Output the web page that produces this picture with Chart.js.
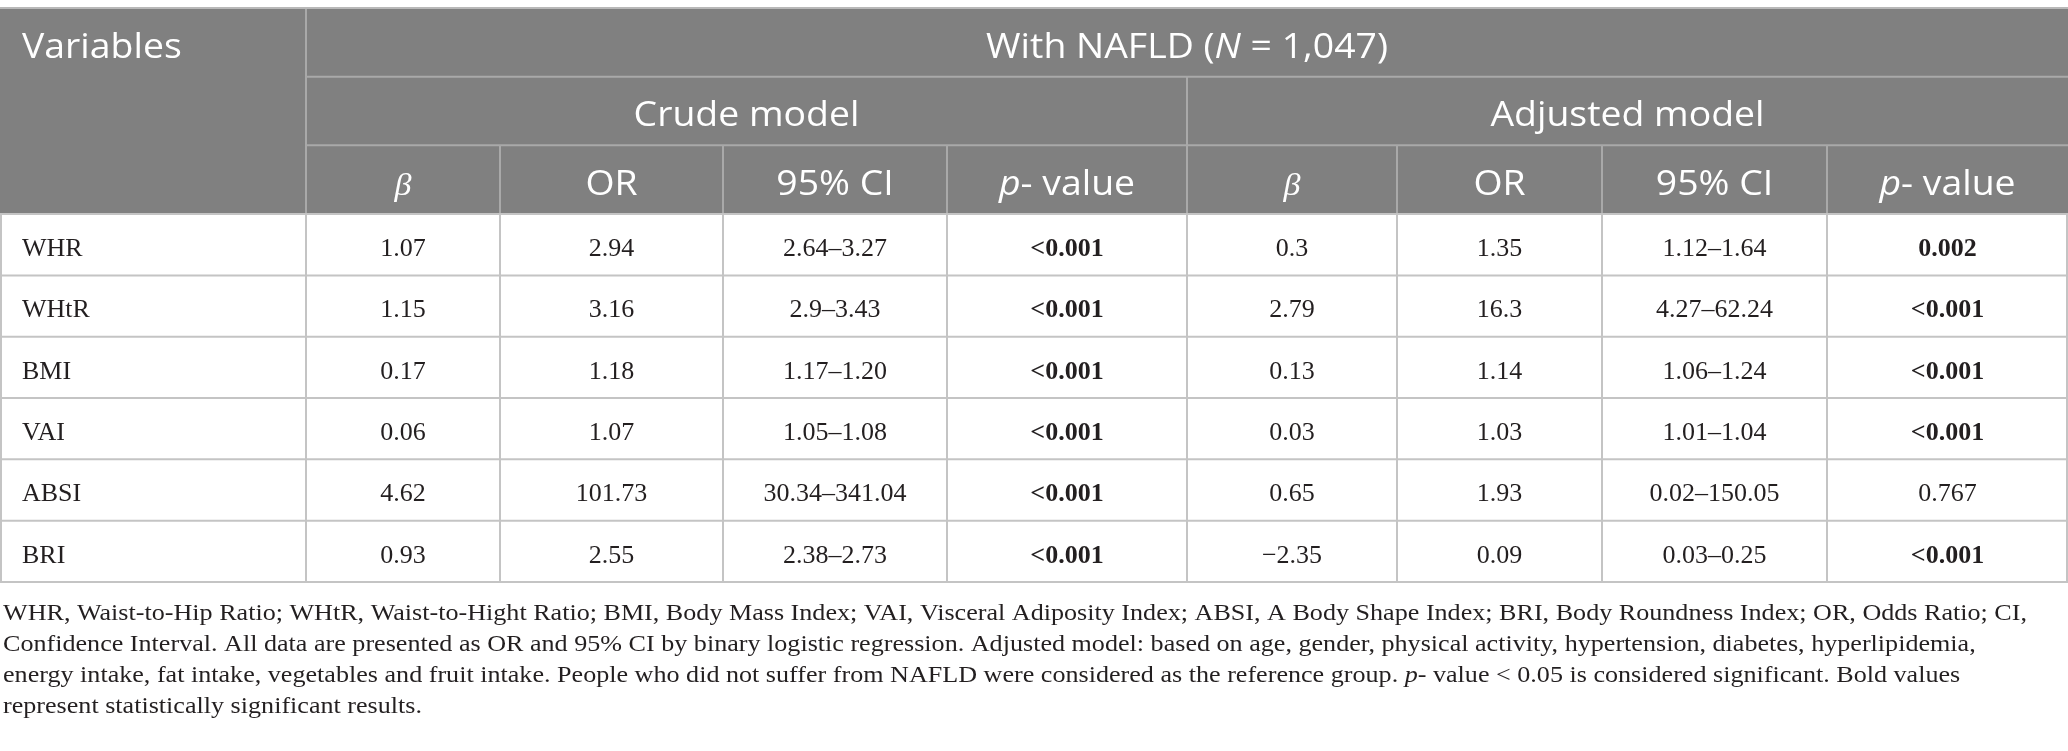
<!DOCTYPE html>
<html>
<head>
<meta charset="utf-8">
<script src="https://cdn.jsdelivr.net/npm/chart.js@4/dist/chart.umd.min.js"></script>
<style>
html,body{margin:0;padding:0;background:#ffffff;}
#wrap{width:2068px;height:751px;position:relative;}
</style>
</head>
<body>
<div id="wrap"><canvas id="c" width="2068" height="751"></canvas></div>
<script>
// ---------------- DATA ----------------
const groupTitle = 'With NAFLD (_N_ = 1,047)';
const modelLabels = ['Crude model', 'Adjusted model'];
const firstHeader = 'Variables';
const subHeaders = ['_β_', 'OR', '95% CI', '_p_- value'];
const variables = ['WHR', 'WHtR', 'BMI', 'VAI', 'ABSI', 'BRI'];

const crudeBeta = ['1.07', '1.15', '0.17', '0.06', '4.62', '0.93'];
const crudeOR   = ['2.94', '3.16', '1.18', '1.07', '101.73', '2.55'];
const crudeCI   = ['2.64–3.27', '2.9–3.43', '1.17–1.20', '1.05–1.08', '30.34–341.04', '2.38–2.73'];
const crudeP    = ['<0.001', '<0.001', '<0.001', '<0.001', '<0.001', '<0.001'];

const adjBeta = ['0.3', '2.79', '0.13', '0.03', '0.65', '−2.35'];
const adjOR   = ['1.35', '16.3', '1.14', '1.03', '1.93', '0.09'];
const adjCI   = ['1.12–1.64', '4.27–62.24', '1.06–1.24', '1.01–1.04', '0.02–150.05', '0.03–0.25'];
const adjP    = ['0.002', '<0.001', '<0.001', '<0.001', '0.767', '<0.001'];

const footnoteLines = [
  'WHR, Waist-to-Hip Ratio; WHtR, Waist-to-Hight Ratio; BMI, Body Mass Index; VAI, Visceral Adiposity Index; ABSI, A Body Shape Index; BRI, Body Roundness Index; OR, Odds Ratio; CI,',
  'Confidence Interval. All data are presented as OR and 95% CI by binary logistic regression. Adjusted model: based on age, gender, physical activity, hypertension, diabetes, hyperlipidemia,',
  'energy intake, fat intake, vegetables and fruit intake. People who did not suffer from NAFLD were considered as the reference group. _p_- value < 0.05 is considered significant. Bold values',
  'represent statistically significant results.'
];

// ---------------- LAYOUT / STYLE ----------------
const colWidths = [306, 194, 223, 224, 240, 210, 205, 225, 241];
const headerRowUnits = 1.12;
const nHeaderRows = 3;
const colEdges = [0];
colWidths.forEach(w => colEdges.push(colEdges[colEdges.length - 1] + w));
const totalX = colEdges[colEdges.length - 1];
const headerUnits = headerRowUnits * nHeaderRows;
const totalY = headerUnits + variables.length;

const HEADER_BG = '#808080';
const HEADER_LINE = '#a9a9a9';
const BODY_LINE = '#c4c4c4';
const TEXT = '#231f20';
const SANS = '"Open Sans"';
const SERIF = '"Liberation Serif"';
const HEAD_STRETCH = 1.1;
const NOTE_STRETCH = 1.135;

const dataColumns = [crudeBeta, crudeOR, crudeCI, crudeP, adjBeta, adjOR, adjCI, adjP];
const pColumns = [3, 7];
function isSignificant(v) {
  if (v.trim().startsWith('<')) return parseFloat(v.replace('<', '')) <= 0.05;
  return parseFloat(v) < 0.05;
}

function colCenter(c) { return (colEdges[c] + colEdges[c + 1]) / 2; }
function rowCenter(i) { return headerUnits + i + 0.5; }

const datasets = [];
datasets.push({
  label: firstHeader,
  data: variables.map((v, i) => ({x: colEdges[0], y: rowCenter(i)})),
  cellText: variables, align: 'left', bold: variables.map(() => false)
});
dataColumns.forEach((vals, k) => {
  datasets.push({
    label: 'col' + (k + 1),
    data: vals.map((v, i) => ({x: colCenter(k + 1), y: rowCenter(i)})),
    cellText: vals, align: 'center',
    bold: vals.map(v => pColumns.includes(k) && isSignificant(v))
  });
});
datasets.forEach(d => { d.pointRadius = 0; d.pointHoverRadius = 0; d.showLine = false; });

function toRuns(str, font, italicFn) {
  const runs = [];
  str.split('_').forEach((p, idx) => {
    if (!p.length) return;
    runs.push({text: p, font: (idx % 2 === 1) ? italicFn(p) : font});
  });
  return runs;
}
function runsWidth(ctx, runs) {
  let w = 0;
  runs.forEach(r => { ctx.font = r.font; w += ctx.measureText(r.text).width; });
  return w;
}
function drawRuns(ctx, runs, x, y, align, stretch) {
  const sx = stretch || 1;
  const w = runsWidth(ctx, runs);
  const tw = w * sx;
  let start = align === 'center' ? x - tw / 2 : x;
  ctx.save();
  ctx.translate(start, y);
  ctx.scale(sx, 1);
  ctx.textAlign = 'left';
  ctx.textBaseline = 'alphabetic';
  let cx = 0;
  runs.forEach(r => { ctx.font = r.font; ctx.fillText(r.text, cx, 0); cx += ctx.measureText(r.text).width; });
  ctx.restore();
}

const HEAD_FONT = '34px ' + SANS;
const headItalic = t => t === 'β' ? 'italic 31px ' + SERIF : 'italic 34px ' + SANS;

function hline(ctx, x0, x1, y, color) {
  ctx.strokeStyle = color; ctx.lineWidth = 2;
  ctx.beginPath(); ctx.moveTo(x0, y); ctx.lineTo(x1, y); ctx.stroke();
}
function vline(ctx, x, y0, y1, color) {
  ctx.strokeStyle = color; ctx.lineWidth = 2;
  ctx.beginPath(); ctx.moveTo(x, y0); ctx.lineTo(x, y1); ctx.stroke();
}

const tablePlugin = {
  id: 'tablePlugin',
  beforeDatasetsDraw(chart) {
    const ctx = chart.ctx;
    const xs = chart.scales.x, ys = chart.scales.y;
    const X = v => xs.getPixelForValue(v);
    const Y = v => ys.getPixelForValue(v);
    ctx.save();
    const left = X(0), right = X(totalX);
    const top = Y(0), hb = Y(headerUnits), bottom = Y(totalY);
    ctx.fillStyle = HEADER_BG;
    ctx.fillRect(left, top, right - left, hb - top);
    ctx.fillStyle = '#ffffff';
    ctx.fillRect(left, hb, right - left, bottom - hb);
    const r1 = Y(headerRowUnits), r2 = Y(2 * headerRowUnits);
    hline(ctx, X(colEdges[1]), right, r1, HEADER_LINE);
    hline(ctx, X(colEdges[1]), right, r2, HEADER_LINE);
    vline(ctx, X(colEdges[1]), top, hb, HEADER_LINE);
    vline(ctx, X(colEdges[5]), r1, hb, HEADER_LINE);
    for (let c = 2; c < colEdges.length - 1; c++) {
      if (c === 5) continue;
      vline(ctx, X(colEdges[c]), r2, hb, HEADER_LINE);
    }
    for (let c = 1; c < colEdges.length - 1; c++) vline(ctx, X(colEdges[c]), hb, bottom, BODY_LINE);
    for (let i = 1; i <= variables.length; i++) hline(ctx, left, right, Y(headerUnits + i), BODY_LINE);
    hline(ctx, left, right, hb, BODY_LINE);
    vline(ctx, left + 1, hb, bottom, BODY_LINE);
    vline(ctx, right - 1, hb, bottom, BODY_LINE);
    hline(ctx, left, right, top, '#b8b8b8');
    ctx.restore();
  },
  afterDatasetsDraw(chart) {
    const ctx = chart.ctx;
    const xs = chart.scales.x, ys = chart.scales.y;
    const X = v => xs.getPixelForValue(v);
    const Y = v => ys.getPixelForValue(v);
    ctx.save();
    ctx.fillStyle = '#ffffff';
    const base = rowIdx => Y((rowIdx + 1) * headerRowUnits) - 19;
    drawRuns(ctx, toRuns(firstHeader, HEAD_FONT, headItalic), X(colEdges[0]) + 22, base(0), 'left', HEAD_STRETCH);
    drawRuns(ctx, toRuns(groupTitle, HEAD_FONT, headItalic), (X(colEdges[1]) + X(totalX)) / 2, base(0), 'center', HEAD_STRETCH);
    drawRuns(ctx, toRuns(modelLabels[0], HEAD_FONT, headItalic), (X(colEdges[1]) + X(colEdges[5])) / 2, base(1), 'center', HEAD_STRETCH);
    drawRuns(ctx, toRuns(modelLabels[1], HEAD_FONT, headItalic), (X(colEdges[5]) + X(totalX)) / 2, base(1), 'center', HEAD_STRETCH);
    for (let g = 0; g < 2; g++) {
      subHeaders.forEach((h, j) => {
        const c = 1 + g * 4 + j;
        drawRuns(ctx, toRuns(h, HEAD_FONT, headItalic), X(colCenter(c)), base(2), 'center', HEAD_STRETCH);
      });
    }
    ctx.fillStyle = TEXT;
    chart.data.datasets.forEach((ds, di) => {
      const meta = chart.getDatasetMeta(di);
      meta.data.forEach((el, i) => {
        const font = (ds.bold[i] ? 'bold ' : '') + '26px ' + SERIF;
        const rowH = Math.abs(Y(1) - Y(0));
        const y = el.y + rowH / 2 - 19.5;
        const x = ds.align === 'left' ? el.x + 22 : el.x;
        drawRuns(ctx, [{text: ds.cellText[i], font}], x, y, ds.align, 1);
      });
    });
    ctx.restore();
  },
  afterDraw(chart) {
    const ctx = chart.ctx;
    ctx.save();
    ctx.fillStyle = TEXT;
    const y0 = chart.chartArea.bottom + 38;
    footnoteLines.forEach((line, i) => {
      const runs = toRuns(line, '23px ' + SERIF, () => 'italic 23px ' + SERIF);
      drawRuns(ctx, runs, 3, y0 + i * 31, 'left', NOTE_STRETCH);
    });
    ctx.restore();
  }
};

new Chart(document.getElementById('c'), {
  type: 'scatter',
  data: {datasets},
  options: {
    responsive: false,
    animation: false,
    devicePixelRatio: 1,
    layout: {padding: {left: 0, right: 0, top: 8, bottom: 169}},
    plugins: {legend: {display: false}, tooltip: {enabled: false}, title: {display: false}},
    events: [],
    scales: {
      x: {type: 'linear', min: 0, max: totalX, display: false},
      y: {type: 'linear', min: 0, max: totalY, reverse: true, display: false}
    }
  },
  plugins: [tablePlugin]
});
</script>
</body>
</html>
